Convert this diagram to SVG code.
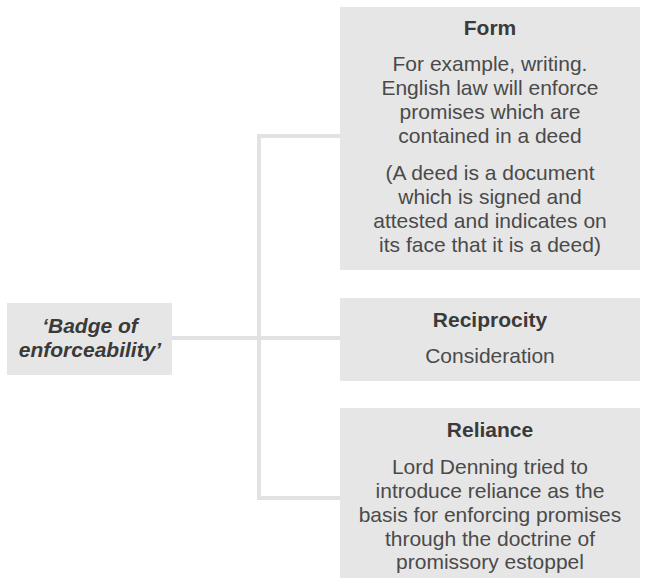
<svg xmlns="http://www.w3.org/2000/svg" width="646" height="587" viewBox="0 0 646 587">
<style>
.box{fill:#e6e6e6}
.t{font-family:"Liberation Sans",Arial,sans-serif;font-size:21px;fill:#4a4a4a;text-anchor:middle}
.h{font-weight:bold;fill:#3a3a3a}
.bi{font-weight:bold;font-style:italic;fill:#3a3a3a}
.c{fill:none;stroke:#e2e2e2;stroke-width:4}
</style>
<rect width="646" height="587" fill="#ffffff"/>
<g id="connectors">
<path class="c" d="M172 338H340M340 136H259V498H340"/>
</g>
<g id="badge">
<rect class="box" x="7" y="303" width="165" height="72"/>
<text class="t bi" x="90" y="333">‘Badge of</text>
<text class="t bi" x="90" y="357">enforceability’</text>
</g>
<g id="form">
<rect class="box" x="340" y="7" width="300" height="263"/>
<text class="t h" x="490" y="35">Form</text>
<text class="t" x="490" y="71">For example, writing.</text>
<text class="t" x="490" y="95">English law will enforce</text>
<text class="t" x="490" y="119">promises which are</text>
<text class="t" x="490" y="143">contained in a deed</text>
<text class="t" x="490" y="180">(A deed is a document</text>
<text class="t" x="490" y="204">which is signed and</text>
<text class="t" x="490" y="228">attested and indicates on</text>
<text class="t" x="490" y="252">its face that it is a deed)</text>
</g>
<g id="reciprocity">
<rect class="box" x="340" y="298" width="300" height="83"/>
<text class="t h" x="490" y="327">Reciprocity</text>
<text class="t" x="490" y="363">Consideration</text>
</g>
<g id="reliance">
<rect class="box" x="340" y="408" width="300" height="170"/>
<text class="t h" x="490" y="437">Reliance</text>
<text class="t" x="490" y="474">Lord Denning tried to</text>
<text class="t" x="490" y="498">introduce reliance as the</text>
<text class="t" x="490" y="522">basis for enforcing promises</text>
<text class="t" x="490" y="546">through the doctrine of</text>
<text class="t" x="490" y="569">promissory estoppel</text>
</g>
</svg>
